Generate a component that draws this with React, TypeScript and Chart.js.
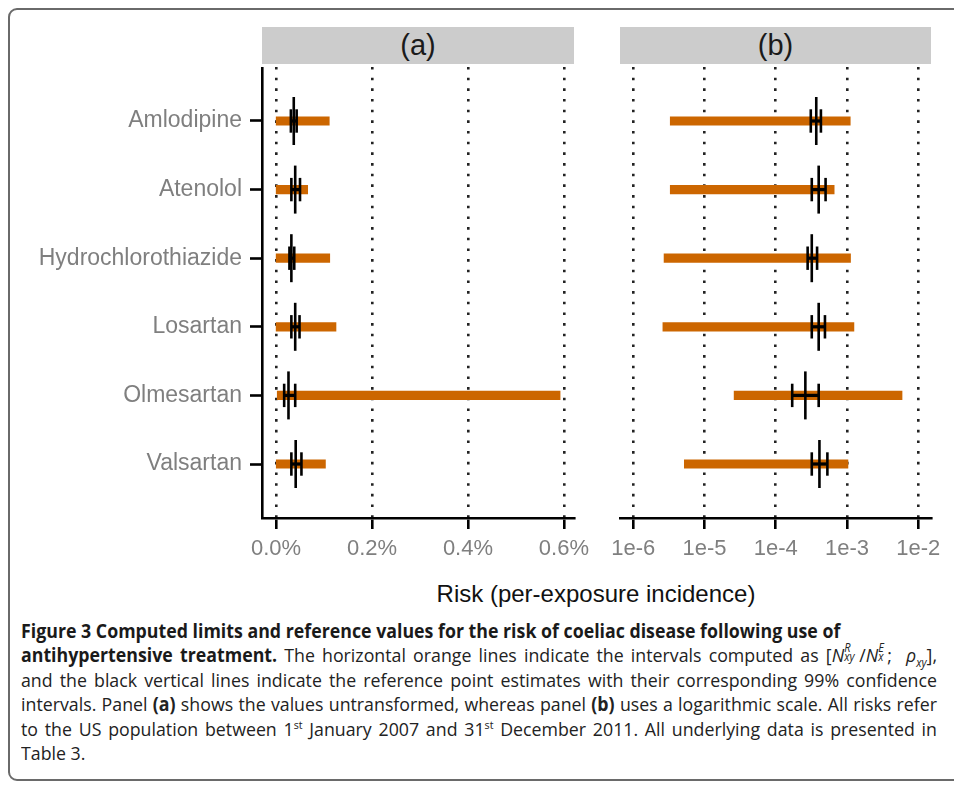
import React, { useEffect, useRef } from "react";
import { Chart, registerables } from "chart.js";

Chart.register(...registerables);

// ---------- data ----------
const categories = [
  "Amlodipine",
  "Atenolol",
  "Hydrochlorothiazide",
  "Losartan",
  "Olmesartan",
  "Valsartan",
];
// computed interval [N^R/N^E ; rho]
const intervalLow = [3.3e-6, 3.3e-6, 2.7e-6, 2.6e-6, 2.6e-5, 5.2e-6];
const intervalHigh = [1.11e-3, 6.6e-4, 1.12e-3, 1.25e-3, 5.92e-3, 1.03e-3];
// reference point estimates with 99% CI
const pointEst = [3.7e-4, 4.0e-4, 3.2e-4, 4.0e-4, 2.6e-4, 4.1e-4];
const ciLow = [3.1e-4, 3.2e-4, 2.8e-4, 3.2e-4, 1.7e-4, 3.2e-4];
const ciHigh = [4.3e-4, 5.0e-4, 3.8e-4, 4.9e-4, 4.0e-4, 5.3e-4];

const linearTicks = [0, 0.002, 0.004, 0.006];
const logTicks = [1e-6, 1e-5, 1e-4, 1e-3, 1e-2];
const logTickLabels = ["1e-6", "1e-5", "1e-4", "1e-3", "1e-2"];

const FONT = "'Liberation Sans', Arial, Helvetica, sans-serif";
const ORANGE = "#cc6600";
const TICK_GRAY = "#7f7f7f";

function buildDatasets(): any[] {
  const idx = categories.map((_, i) => i);
  const pointCommon = {
    type: "scatter",
    showLine: false,
    pointStyle: "line",
    pointRotation: 90,
    pointBorderColor: "#000",
    pointBackgroundColor: "#000",
    pointBorderWidth: 2.6,
    pointHoverRadius: 0,
    order: 0,
  };
  return [
    {
      ...pointCommon,
      label: "estimate",
      data: idx.map((i) => ({ x: pointEst[i], y: i })),
      pointRadius: 24,
    },
    {
      ...pointCommon,
      label: "ciLow",
      data: idx.map((i) => ({ x: ciLow[i], y: i })),
      pointRadius: 11.7,
    },
    {
      ...pointCommon,
      label: "ciHigh",
      data: idx.map((i) => ({ x: ciHigh[i], y: i })),
      pointRadius: 11.7,
    },
    {
      type: "bar",
      label: "ci",
      indexAxis: "y",
      grouped: false,
      data: idx.map((i) => ({ x: [ciLow[i], ciHigh[i]], y: i })),
      backgroundColor: "#000",
      borderWidth: 0,
      barThickness: 2.6,
      order: 1,
    },
    {
      type: "bar",
      label: "interval",
      indexAxis: "y",
      grouped: false,
      data: idx.map((i) => ({ x: [intervalLow[i], intervalHigh[i]], y: i })),
      backgroundColor: ORANGE,
      borderWidth: 0,
      barThickness: 8.5,
      order: 2,
    },
  ];
}

function yScale(display: boolean): any {
  return {
    type: "linear",
    display,
    offset: false,
    min: -0.787,
    max: 5.787,
    reverse: true,
    afterBuildTicks: (s: any) => {
      s.ticks = categories.map((_, i) => ({ value: i }));
    },
    afterFit: (s: any) => {
      if (display) s.width = 262;
      s.paddingTop = 0;
      s.paddingBottom = 0;
    },
    grid: {
      display: true,
      offset: false,
      drawOnChartArea: false,
      drawTicks: true,
      tickLength: 12,
      tickColor: "#000",
      tickWidth: 2.6,
      color: "rgba(0,0,0,0)",
    },
    border: { display: true, color: "#000", width: 2.6 },
    ticks: {
      autoSkip: false,
      padding: 8,
      color: TICK_GRAY,
      font: { family: FONT, size: 23 },
      callback: (v: any) => categories[Math.round(Number(v))] ?? "",
    },
  };
}

function xGrid() {
  return {
    display: true,
    offset: false,
    drawOnChartArea: true,
    drawTicks: true,
    tickLength: 11,
    tickColor: "#000",
    tickWidth: 2.6,
    color: "#222",
    lineWidth: 2.6,
  };
}

function makeOptions(xScale: any, showY: boolean, padding: any): any {
  return {
    responsive: false,
    animation: false,
    devicePixelRatio: 1,
    layout: { padding, autoPadding: false },
    plugins: {
      legend: { display: false },
      tooltip: { enabled: false },
      title: { display: false },
    },
    events: [],
    scales: {
      x: xScale,
      y: yScale(showY),
    },
  };
}

const SupSub = ({ sup, sub }: { sup: string; sub: string }) => (
  <span
    style={{
      position: "relative",
      display: "inline-block",
      width: sub.length > 1 ? "0.85em" : "0.5em",
      height: "1em",
      fontStyle: "italic",
    }}
  >
    <span style={{ position: "absolute", left: 0, top: "-0.08em", fontSize: "0.62em", lineHeight: 1 }}>{sup}</span>
    <span style={{ position: "absolute", left: 0, top: "0.62em", fontSize: "0.62em", lineHeight: 1 }}>{sub}</span>
  </span>
);

export default function App() {
  const refA = useRef<HTMLCanvasElement | null>(null);
  const refB = useRef<HTMLCanvasElement | null>(null);

  useEffect(() => {
    document.body.style.margin = "0";
    const xFit = (s: any) => {
      s.height = 54;
    };
    const xA = {
      type: "linear",
      offset: false,
      min: -0.000292,
      max: 0.00621,
      afterBuildTicks: (s: any) => {
        s.ticks = linearTicks.map((v) => ({ value: v }));
      },
      afterFit: xFit,
      grid: xGrid(),
      border: { display: true, color: "#000", width: 2.6, dash: [2.6, 8.07] },
      ticks: {
        autoSkip: false,
        maxRotation: 0,
        padding: 7,
        color: TICK_GRAY,
        font: { family: FONT, size: 22 },
        callback: (v: any) => (Number(v) * 100).toFixed(1) + "%",
      },
    };
    const xB = {
      type: "logarithmic",
      offset: false,
      min: 6.5e-7,
      max: 0.0151,
      afterBuildTicks: (s: any) => {
        s.ticks = logTicks.map((v) => ({ value: v }));
      },
      afterFit: xFit,
      grid: xGrid(),
      border: { display: true, color: "#000", width: 2.6, dash: [2.6, 8.07] },
      ticks: {
        autoSkip: false,
        maxRotation: 0,
        padding: 7,
        color: TICK_GRAY,
        font: { family: FONT, size: 22 },
        callback: (v: any, i: number) => {
          const k = logTicks.findIndex((t) => Math.abs(Math.log10(t) - Math.log10(Number(v))) < 1e-6);
          return k >= 0 ? logTickLabels[k] : logTickLabels[i] ?? "";
        },
      },
    };

    const chartA = new Chart(refA.current as HTMLCanvasElement, {
      type: "scatter",
      data: { datasets: buildDatasets() },
      options: makeOptions(xA, true, { left: 0, top: 0, right: 26, bottom: 0 }),
    } as any);
    const chartB = new Chart(refB.current as HTMLCanvasElement, {
      type: "scatter",
      data: { datasets: buildDatasets() },
      options: makeOptions(xB, false, { left: 30, top: 0, right: 23, bottom: 0 }),
    } as any);
    return () => {
      chartA.destroy();
      chartB.destroy();
    };
  }, []);

  const headerStyle = (left: number, width: number): React.CSSProperties => ({
    position: "absolute",
    left,
    top: 27,
    width,
    height: 37,
    background: "#cccccc",
    color: "#1a1a1a",
    fontFamily: FONT,
    fontSize: 29,
    lineHeight: "37px",
    textAlign: "center",
  });

  const justifyLine: React.CSSProperties = {
    whiteSpace: "nowrap",
    textAlign: "justify",
    textAlignLast: "justify",
    height: "24.4px",
  };
  const plainLine: React.CSSProperties = { whiteSpace: "nowrap", height: "24.4px" };
  const capScale = 0.935;
  const capWidth = 916 / capScale;

  return (
    <div
      style={{
        position: "relative",
        width: 954,
        height: 786,
        overflow: "hidden",
        background: "#fff",
      }}
    >
      <div
        style={{
          position: "absolute",
          left: 8,
          top: 8,
          width: 980,
          height: 773,
          border: "2px solid #6a6a6a",
          borderRadius: 9,
          boxSizing: "border-box",
        }}
      />
      <div style={headerStyle(262, 312)}>(a)</div>
      <div style={headerStyle(620, 311)}>(b)</div>
      <canvas
        ref={refA}
        width={600}
        height={505}
        style={{ position: "absolute", left: 0, top: 67, width: 600, height: 505 }}
      />
      <canvas
        ref={refB}
        width={364}
        height={505}
        style={{ position: "absolute", left: 590, top: 67, width: 364, height: 505 }}
      />
      <div
        style={{
          position: "absolute",
          left: 296,
          width: 600,
          top: 579,
          textAlign: "center",
          fontFamily: FONT,
          fontSize: 24,
          lineHeight: "30px",
          color: "#111",
        }}
      >
        Risk (per-exposure incidence)
      </div>
      <div
        style={{
          position: "absolute",
          left: 21,
          top: 619,
          width: capWidth,
          transform: `scaleX(${capScale})`,
          transformOrigin: "0 0",
          fontFamily: "'Open Sans', 'Noto Sans', sans-serif",
          fontSize: 19,
          lineHeight: "24.4px",
          color: "#222",
        }}
      >
        <div style={{ ...plainLine, fontWeight: 700, color: "#1a1a1a" }}>
          Figure 3 Computed limits and reference values for the risk of coeliac disease following use of
        </div>
        <div style={justifyLine}>
          <b style={{ color: "#1a1a1a" }}>antihypertensive treatment.</b> The horizontal orange lines indicate
          the intervals computed as [<i>N</i>
          <SupSub sup="R" sub="xy" />/<i>N</i>
          <SupSub sup="E" sub="x" />;&nbsp; <i>ρ</i>
          <sub style={{ fontSize: "0.62em", fontStyle: "italic", lineHeight: 0 }}>xy</sub>],
        </div>
        <div style={justifyLine}>
          and the black vertical lines indicate the reference point estimates with their corresponding 99% confidence
        </div>
        <div style={justifyLine}>
          intervals. Panel <b>(a)</b> shows the values untransformed, whereas panel <b>(b)</b> uses a logarithmic
          scale. All risks refer
        </div>
        <div style={justifyLine}>
          to the US population between 1<sup style={{ fontSize: "0.6em", lineHeight: 0 }}>st</sup> January 2007 and
          31<sup style={{ fontSize: "0.6em", lineHeight: 0 }}>st</sup> December 2011. All underlying data is presented
          in
        </div>
        <div style={plainLine}>Table 3.</div>
      </div>
    </div>
  );
}
